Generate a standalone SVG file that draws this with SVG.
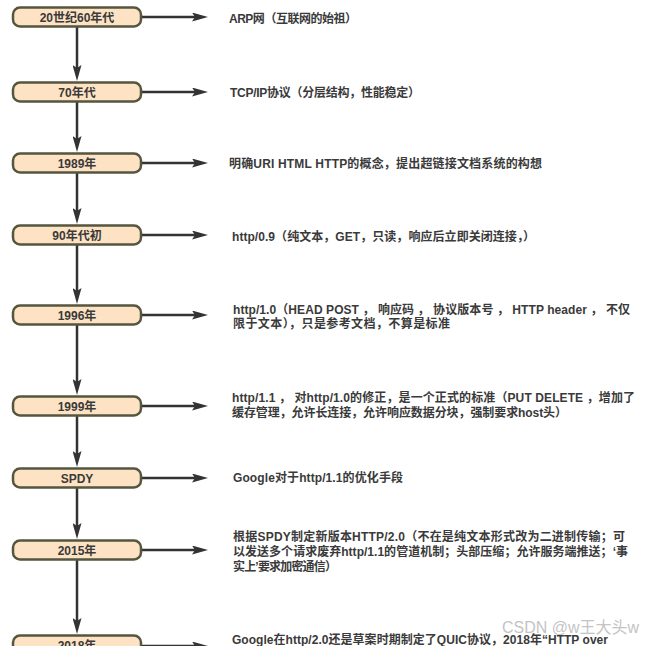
<svg xmlns="http://www.w3.org/2000/svg" width="653" height="646" viewBox="0 0 653 646">
<style>
.box{fill:#fde3c4;stroke:#55563f;stroke-width:2.5}
.lbl{font-family:"Liberation Sans","Noto Sans CJK SC",sans-serif;font-size:12px;font-weight:bold;fill:#3a3a3a;text-anchor:middle}
.t{font-family:"Liberation Sans","Noto Sans CJK SC",sans-serif;font-size:12px;font-weight:bold;fill:#3a3a3a}
.c{stroke:#333;stroke-width:2.5;fill:none;marker-end:url(#ah)}
.wm{font-family:"Liberation Sans","Noto Sans CJK SC",sans-serif;font-size:16px;fill:#c4c4c4}
</style>
<defs>
<marker id="ah" viewBox="0 0 16 9" refX="8" refY="4.5" markerWidth="16" markerHeight="9" markerUnits="userSpaceOnUse" orient="auto">
<path d="M0,0 L16,4.5 L0,9 L3,4.5 Z" fill="#333"/>
</marker>
</defs>
<rect width="653" height="646" fill="#fff"/>
<g id="connectors">
<line class="c" x1="141" y1="17" x2="200" y2="17"/>
<line class="c" x1="141" y1="92" x2="200" y2="92"/>
<line class="c" x1="141" y1="163" x2="200" y2="163"/>
<line class="c" x1="141" y1="235" x2="200" y2="235"/>
<line class="c" x1="141" y1="315" x2="200" y2="315"/>
<line class="c" x1="141" y1="406" x2="200" y2="406"/>
<line class="c" x1="141" y1="478" x2="200" y2="478"/>
<line class="c" x1="141" y1="550" x2="200" y2="550"/>
<line class="c" x1="141" y1="646" x2="200" y2="646"/>
<line class="c" x1="77" y1="27" x2="77" y2="73"/>
<line class="c" x1="77" y1="102" x2="77" y2="144"/>
<line class="c" x1="77" y1="173" x2="77" y2="216"/>
<line class="c" x1="77" y1="245" x2="77" y2="296"/>
<line class="c" x1="77" y1="325" x2="77" y2="387"/>
<line class="c" x1="77" y1="416" x2="77" y2="459"/>
<line class="c" x1="77" y1="488" x2="77" y2="531"/>
<line class="c" x1="77" y1="560" x2="77" y2="626"/>
</g>
<g id="n1960"><rect class="box" x="13" y="7.5" width="128" height="19" rx="7"/><text class="lbl" x="77" y="21.5">20世纪60年代</text></g>
<g id="n1970"><rect class="box" x="13" y="82.5" width="128" height="19" rx="7"/><text class="lbl" x="77" y="96.5">70年代</text></g>
<g id="n1989"><rect class="box" x="13" y="153.5" width="128" height="19" rx="7"/><text class="lbl" x="77" y="167.5">1989年</text></g>
<g id="n1990"><rect class="box" x="13" y="225.5" width="128" height="19" rx="7"/><text class="lbl" x="77" y="239.5">90年代初</text></g>
<g id="n1996"><rect class="box" x="13" y="305.5" width="128" height="19" rx="7"/><text class="lbl" x="77" y="319.5">1996年</text></g>
<g id="n1999"><rect class="box" x="13" y="396.5" width="128" height="19" rx="7"/><text class="lbl" x="77" y="410.5">1999年</text></g>
<g id="nspdy"><rect class="box" x="13" y="468.5" width="128" height="19" rx="7"/><text class="lbl" x="77" y="482.5">SPDY</text></g>
<g id="n2015"><rect class="box" x="13" y="540.5" width="128" height="19" rx="7"/><text class="lbl" x="77" y="554.5">2015年</text></g>
<g id="n2018"><rect class="box" x="13" y="635.5" width="128" height="19" rx="7"/><text class="lbl" x="77" y="649.5">2018年</text></g>
<g id="texts">
<text class="t" x="229" y="23" textLength="128">ARP网（互联网的始祖）</text>
<text class="t" x="230" y="97" textLength="190">TCP/IP协议（分层结构，性能稳定）</text>
<text class="t" x="229" y="168" textLength="313">明确URI HTML HTTP的概念，提出超链接文档系统的构想</text>
<text class="t" x="232" y="241" textLength="303">http/0.9（纯文本，GET，只读，响应后立即关闭连接，）</text>
<text class="t" x="233" y="314" textLength="397">http/1.0（HEAD POST ， 响应码 ， 协议版本号 ， HTTP header ， 不仅</text>
<text class="t" x="233" y="328" textLength="217">限于文本），只是参考文档，不算是标准</text>
<text class="t" x="232" y="402" textLength="403">http/1.1 ， 对http/1.0的修正，是一个正式的标准（PUT DELETE ，增加了</text>
<text class="t" x="232" y="417" textLength="335">缓存管理，允许长连接，允许响应数据分块，强制要求host头）</text>
<text class="t" x="233" y="482" textLength="170">Google对于http/1.1的优化手段</text>
<text class="t" x="233" y="541" textLength="392">根据SPDY制定新版本HTTP/2.0（不在是纯文本形式改为二进制传输；可</text>
<text class="t" x="233" y="556" textLength="395">以发送多个请求废弃http/1.1的管道机制；头部压缩；允许服务端推送；‘事</text>
<text class="t" x="233" y="571" textLength="104">实上’要求加密通信）</text>
<text class="t" x="232" y="644" textLength="376">Google在http/2.0还是草案时期制定了QUIC协议，2018年“HTTP over</text>
</g>
<text class="wm" x="502" y="633">CSDN @w王大头w</text>
</svg>
